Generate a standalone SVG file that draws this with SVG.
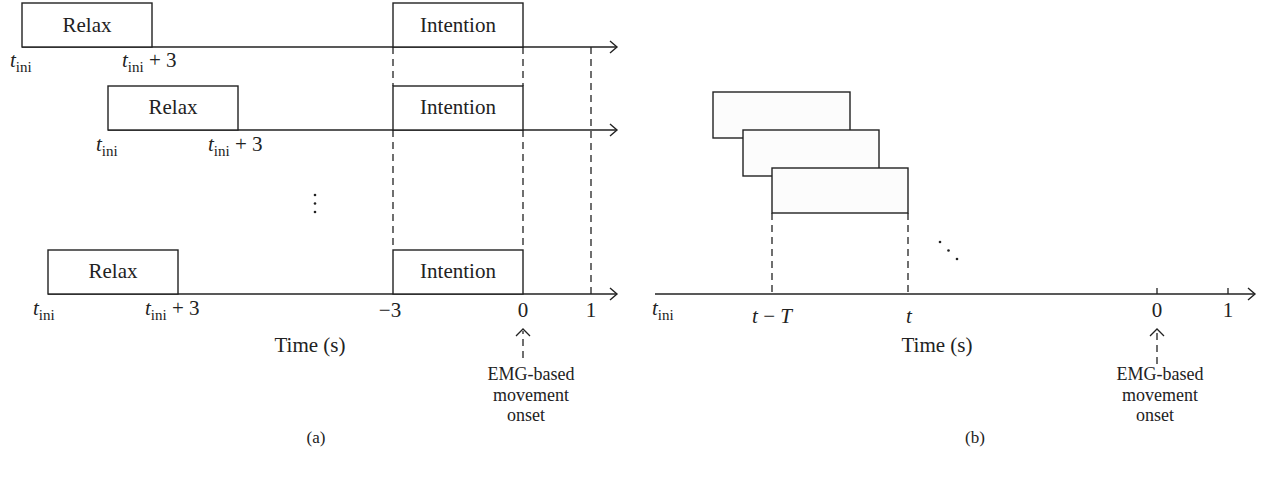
<svg xmlns="http://www.w3.org/2000/svg" width="1262" height="477" viewBox="0 0 1262 477">
<defs>
<style>
text{font-family:"Liberation Serif","Times New Roman",serif;font-size:21px;fill:#222}
.c{text-anchor:middle}
.it{font-style:italic}
.sub{font-size:15px}
.emg{font-size:18px}
.box{fill:#fff;stroke:#222;stroke-width:1.4}
.gbox{fill:#fcfcfc;stroke:#222;stroke-width:1.4}
.ax{fill:none;stroke:#222;stroke-width:1.4}
.dash{fill:none;stroke:#222;stroke-width:1.3;stroke-dasharray:7 5}
.tick{stroke:#222;stroke-width:1.3}
</style>
<marker id="ah" markerWidth="12" markerHeight="14" refX="8" refY="7" orient="auto" markerUnits="userSpaceOnUse">
<path d="M1,1 L8,7 L1,13" fill="none" stroke="#222" stroke-width="1.4"/>
</marker>
</defs>

<g id="connectors">
<line class="ax" x1="22" y1="47" x2="617" y2="47" marker-end="url(#ah)"/>
<line class="ax" x1="108" y1="130" x2="617" y2="130" marker-end="url(#ah)"/>
<line class="ax" x1="48" y1="294" x2="617" y2="294" marker-end="url(#ah)"/>
<line class="dash" x1="393" y1="47" x2="393" y2="86"/>
<line class="dash" x1="393" y1="130" x2="393" y2="250"/>
<line class="dash" x1="523" y1="47" x2="523" y2="86"/>
<line class="dash" x1="523" y1="130" x2="523" y2="250"/>
<line class="dash" x1="591" y1="47" x2="591" y2="294"/>
<line class="dash" x1="523" y1="358" x2="523" y2="331"/>
<path d="M516,336 L523,329 L530,336" fill="none" stroke="#222" stroke-width="1.3"/>
<line class="ax" x1="655" y1="294" x2="1255" y2="294" marker-end="url(#ah)"/>
<line class="dash" x1="772" y1="213" x2="772" y2="294"/>
<line class="dash" x1="908" y1="213" x2="908" y2="294"/>
<line class="tick" x1="1157" y1="288" x2="1157" y2="294"/>
<line class="tick" x1="1228" y1="288" x2="1228" y2="294"/>
<line class="dash" x1="1157" y1="364" x2="1157" y2="331"/>
<path d="M1150,336 L1157,329 L1164,336" fill="none" stroke="#222" stroke-width="1.3"/>
</g>

<g id="relax1"><rect class="box" x="22" y="3" width="130" height="44"/><text class="c" x="87" y="32">Relax</text></g>
<g id="intention1"><rect class="box" x="393" y="3" width="130" height="44"/><text class="c" x="458" y="32">Intention</text></g>
<g id="relax2"><rect class="box" x="108" y="86" width="130" height="44"/><text class="c" x="173" y="114">Relax</text></g>
<g id="intention2"><rect class="box" x="393" y="86" width="130" height="44"/><text class="c" x="458" y="114">Intention</text></g>
<g id="relax3"><rect class="box" x="48" y="250" width="130" height="44"/><text class="c" x="113" y="278">Relax</text></g>
<g id="intention3"><rect class="box" x="393" y="250" width="130" height="44"/><text class="c" x="458" y="278">Intention</text></g>

<g id="labels-a">
<text x="10" y="67"><tspan class="it">t</tspan><tspan class="sub" dy="5">ini</tspan></text>
<text x="122" y="67"><tspan class="it">t</tspan><tspan class="sub" dy="5">ini</tspan><tspan dy="-5"> + 3</tspan></text>
<text x="96" y="151"><tspan class="it">t</tspan><tspan class="sub" dy="5">ini</tspan></text>
<text x="208" y="151"><tspan class="it">t</tspan><tspan class="sub" dy="5">ini</tspan><tspan dy="-5"> + 3</tspan></text>
<text x="33" y="315"><tspan class="it">t</tspan><tspan class="sub" dy="5">ini</tspan></text>
<text x="145" y="315"><tspan class="it">t</tspan><tspan class="sub" dy="5">ini</tspan><tspan dy="-5"> + 3</tspan></text>
<circle cx="315" cy="195" r="1.3" fill="#222"/>
<circle cx="315" cy="203.5" r="1.3" fill="#222"/>
<circle cx="315" cy="212" r="1.3" fill="#222"/>
<text class="c" x="390" y="317">−3</text>
<text class="c" x="523" y="317">0</text>
<text class="c" x="591" y="317">1</text>
<text class="c" x="310" y="352">Time (s)</text>
<text class="c emg" x="531" y="380">EMG-based</text>
<text class="c emg" x="531" y="400.5">movement</text>
<text class="c emg" x="526" y="421">onset</text>
<text class="c" x="316" y="443" style="font-size:17px">(a)</text>
</g>

<g id="window1"><rect class="gbox" x="713" y="92" width="137" height="46"/></g>
<g id="window2"><rect class="gbox" x="743" y="130" width="136" height="46"/></g>
<g id="window3"><rect class="gbox" x="772" y="168" width="136" height="45"/></g>

<g id="labels-b">
<text x="652" y="315"><tspan class="it">t</tspan><tspan class="sub" dy="5">ini</tspan></text>
<text class="c" x="772" y="323"><tspan class="it">t</tspan> − <tspan class="it">T</tspan></text>
<text class="c it" x="909" y="323">t</text>
<circle cx="940" cy="242" r="1.3" fill="#222"/>
<circle cx="948.5" cy="250.5" r="1.3" fill="#222"/>
<circle cx="957" cy="259" r="1.3" fill="#222"/>
<text class="c" x="1157" y="317">0</text>
<text class="c" x="1228" y="317">1</text>
<text class="c" x="937" y="352">Time (s)</text>
<text class="c emg" x="1160" y="380">EMG-based</text>
<text class="c emg" x="1160" y="400.5">movement</text>
<text class="c emg" x="1155" y="421">onset</text>
<text class="c" x="975" y="443" style="font-size:17px">(b)</text>
</g>
</svg>
